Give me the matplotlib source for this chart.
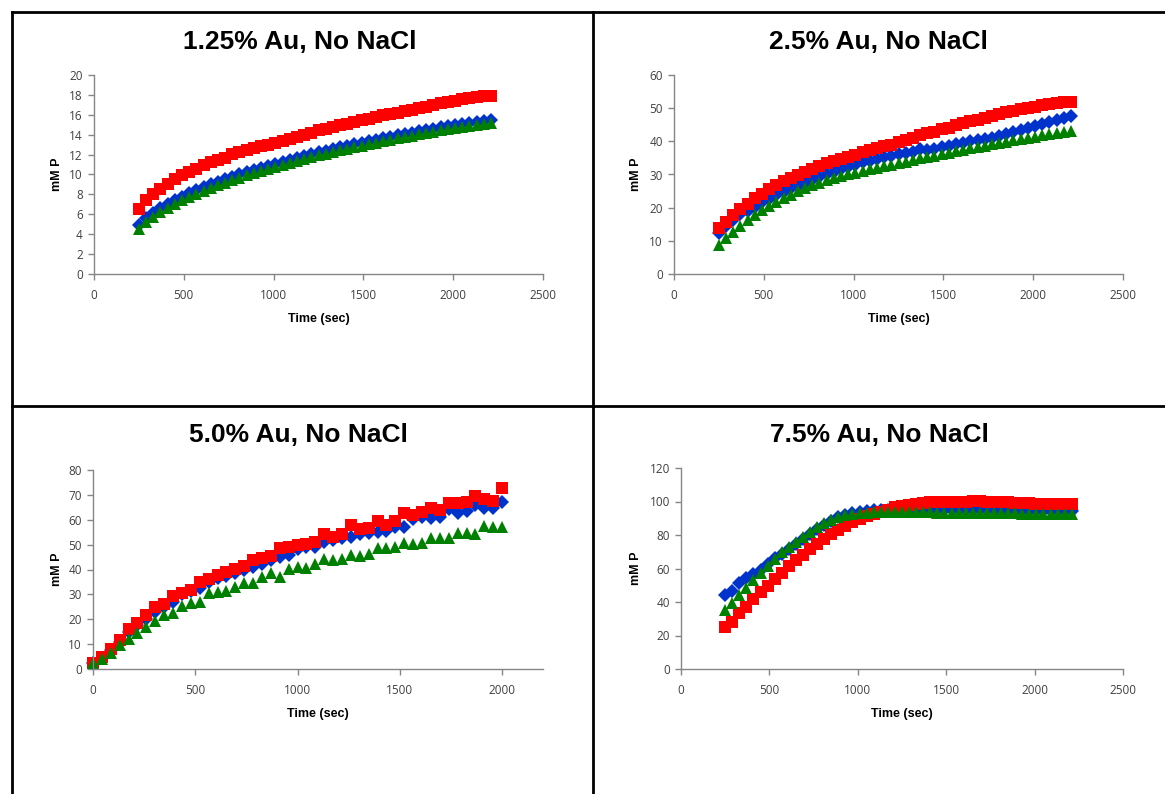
import numpy as np
import matplotlib.pyplot as plt
from matplotlib.lines import Line2D

# sampling times (sec)
t_main = np.arange(250, 2211, 40)
t_5pct = np.linspace(0, 2000, 47)

# 1.25% Au
au125_blue = [4.9, 5.6, 6.1, 6.6, 7.0, 7.4, 7.75, 8.1, 8.4, 8.7,
              9.0, 9.25, 9.5, 9.75, 10.0, 10.25, 10.5, 10.7, 10.9, 11.1,
              11.3, 11.5, 11.7, 11.9, 12.05, 12.25, 12.4, 12.6, 12.75, 12.9,
              13.05, 13.2, 13.35, 13.5, 13.65, 13.8, 13.95, 14.1, 14.2, 14.35,
              14.5, 14.6, 14.75, 14.85, 15.0, 15.1, 15.2, 15.3, 15.4, 15.5]
au125_red = [6.5, 7.4, 8.0, 8.5, 9.0, 9.5, 9.9, 10.3, 10.6, 11.0,
             11.3, 11.5, 11.7, 12.05, 12.25, 12.5, 12.7, 12.9, 13.0, 13.2,
             13.4, 13.6, 13.8, 14.0, 14.2, 14.45, 14.6, 14.75, 14.95, 15.1,
             15.25, 15.45, 15.6, 15.75, 15.95, 16.05, 16.2, 16.35, 16.5, 16.65,
             16.8, 17.0, 17.15, 17.25, 17.4, 17.55, 17.7, 17.8, 17.85, 17.9]
au125_green = [4.5, 5.2, 5.75, 6.25, 6.65, 7.05, 7.4, 7.75, 8.05, 8.35,
               8.65, 8.9, 9.15, 9.4, 9.65, 9.9, 10.15, 10.35, 10.6, 10.8,
               11.0, 11.2, 11.4, 11.6, 11.75, 11.95, 12.1, 12.3, 12.45, 12.6,
               12.75, 12.9, 13.05, 13.2, 13.35, 13.5, 13.65, 13.8, 13.9, 14.05,
               14.2, 14.3, 14.45, 14.55, 14.7, 14.8, 14.9, 15.0, 15.1, 15.2]

# 2.5% Au
au25_blue = [12.5, 14.6, 16.4, 18.0, 19.1, 20.3, 21.6, 22.6, 23.8, 24.8,
             25.8, 26.6, 27.5, 28.3, 29.1, 30.0, 30.8, 31.6, 32.3, 33.0,
             33.7, 34.2, 34.7, 35.2, 35.7, 36.1, 36.5, 36.9, 37.6, 37.3,
             37.8, 38.3, 38.7, 39.1, 39.6, 40.0, 40.4, 40.8, 41.1, 41.6,
             42.2, 42.8, 43.4, 44.0, 44.6, 45.2, 45.8, 46.3, 46.9, 47.6]
au25_red = [14.0, 15.7, 17.8, 19.6, 21.1, 22.8, 24.1, 25.5, 26.9, 27.9,
            28.9, 29.9, 30.9, 31.8, 32.6, 33.4, 34.0, 34.7, 35.2, 36.0,
            36.8, 37.4, 38.0, 38.5, 39.0, 39.7, 40.4, 41.1, 41.8, 42.4,
            42.9, 43.6, 44.1, 44.8, 45.4, 46.0, 46.5, 47.0, 47.6, 48.2,
            48.7, 49.2, 49.6, 50.0, 50.5, 50.9, 51.4, 51.6, 51.8, 52.0]
au25_green = [8.7, 10.8, 12.8, 14.6, 16.3, 17.8, 19.2, 20.5, 21.7, 22.8,
              23.8, 24.9, 25.8, 26.7, 27.5, 28.2, 28.9, 29.5, 30.1, 30.6,
              31.1, 31.6, 32.1, 32.6, 33.0, 33.5, 33.9, 34.4, 34.9, 35.3,
              35.7, 36.1, 36.6, 37.0, 37.5, 37.9, 38.3, 38.7, 39.1, 39.5,
              39.9, 40.3, 40.7, 41.0, 41.4, 41.8, 42.1, 42.4, 42.7, 43.0]

# 5.0% Au
au50_blue = [2.3, 4.6, 7.6, 11.0, 14.8, 17.5, 20.0, 23.0, 25.1, 27.1,
             30.0, 31.5, 32.4, 35.0, 36.4, 37.4, 38.5, 39.8, 41.1, 42.2,
             43.8, 45.2, 45.8, 48.1, 48.9, 48.9, 51.2, 52.0, 52.5, 53.2,
             54.4, 54.8, 55.2, 55.6, 57.2, 57.2, 60.2, 61.2, 60.6, 61.2,
             64.2, 62.6, 63.6, 66.0, 64.6, 64.9, 67.1]
au50_red = [2.5, 5.0, 7.9, 11.7, 16.1, 18.6, 21.7, 25.1, 26.1, 29.4,
            30.7, 31.8, 35.1, 36.2, 37.8, 39.1, 40.1, 41.4, 43.8, 44.5,
            45.4, 48.5, 49.2, 49.9, 50.3, 51.2, 54.3, 53.2, 54.3, 57.9,
            56.1, 56.5, 59.5, 57.9, 59.6, 62.8, 61.9, 63.2, 64.6, 63.9,
            66.6, 66.9, 67.3, 69.5, 68.2, 67.5, 72.9]
au50_green = [2.3, 3.9, 6.3, 9.7, 11.9, 14.6, 17.0, 19.3, 21.7, 22.7,
              25.3, 26.7, 27.1, 30.4, 31.1, 31.5, 33.1, 34.7, 34.7, 36.9,
              38.5, 37.1, 40.1, 41.2, 40.5, 42.2, 44.1, 43.8, 44.2, 45.8,
              45.4, 46.2, 48.8, 48.8, 48.9, 50.5, 50.1, 50.5, 52.8, 52.5,
              52.5, 54.8, 54.8, 54.3, 57.5, 57.0, 57.0]

# 7.5% Au
au75_blue = [43.9, 46.8, 51.2, 54.2, 56.8, 59.2, 62.8, 66.0, 68.8, 71.8,
             74.7, 77.5, 80.7, 83.5, 86.1, 88.5, 90.5, 92.1, 93.3, 93.9,
             94.3, 94.7, 95.0, 95.2, 95.3, 95.3, 95.3, 95.2, 95.2, 95.1,
             95.1, 95.0, 95.0, 94.9, 94.9, 94.8, 94.8, 94.7, 94.7, 94.6,
             94.6, 94.5, 94.5, 94.4, 94.4, 94.3, 94.3, 94.2, 94.2, 94.1]
au75_red = [24.9, 28.3, 33.3, 37.3, 41.7, 45.8, 49.6, 53.6, 57.2, 61.2,
            64.8, 68.2, 71.6, 74.7, 77.7, 80.7, 83.1, 85.5, 87.7, 89.5,
            91.1, 92.5, 93.7, 95.1, 96.5, 97.5, 98.1, 98.5, 99.1, 99.5,
            99.7, 99.7, 99.9, 99.9, 99.9, 100.1, 100.1, 99.7, 99.7, 99.5,
            99.5, 99.3, 99.3, 99.0, 98.8, 98.8, 98.6, 98.6, 98.8, 98.3]
au75_green = [35.3, 39.7, 44.2, 48.2, 53.2, 57.6, 61.6, 65.6, 69.6, 72.8,
              75.7, 78.7, 81.7, 84.5, 87.1, 89.1, 90.5, 92.1, 92.7, 93.1,
              93.4, 93.6, 93.7, 93.8, 93.8, 93.8, 93.7, 93.6, 93.5, 93.5,
              93.4, 93.4, 93.3, 93.3, 93.2, 93.2, 93.1, 93.1, 93.0, 93.0,
              92.9, 92.9, 92.8, 92.8, 92.7, 92.7, 92.6, 92.6, 92.5, 92.5]

W, H = 1165, 794
fig = plt.figure(figsize=(W / 100, H / 100), dpi=100)

def px_rect(left, top, right, bottom):
    return [left / W, 1 - bottom / H, (right - left) / W, (bottom - top) / H]

panels = [
    ("1.25% Au, No NaCl", px_rect(94, 75, 543, 274), (300, 42), 57,
     t_main, au125_blue, au125_red, au125_green, (0, 2500), (0, 20), 2),
    ("2.5% Au, No NaCl", px_rect(674, 75, 1123, 274), (878, 42), 636,
     t_main, au25_blue, au25_red, au25_green, (0, 2500), (0, 60), 10),
    ("5.0% Au, No NaCl", px_rect(93, 470, 543, 669), (298, 435), 57,
     t_5pct, au50_blue, au50_red, au50_green, (0, 2200), (0, 80), 10),
    ("7.5% Au, No NaCl", px_rect(681, 468, 1123, 669), (879, 435), 636,
     t_main, au75_blue, au75_red, au75_green, (0, 2500), (0, 120), 20),
]

axis_grey = '#868686'
for title, rect, tpos, ylab_x, t, blue, red, green, xlim, ylim, ystep in panels:
    ax = fig.add_axes(rect)
    ax.plot(t, blue, 'D', color='#0033CC', ms=7.0, mew=0, clip_on=False)
    ax.plot(t, red, 's', color='#FF0000', ms=8.4, mew=0, clip_on=False)
    ax.plot(t, green, '^', color='#008000', ms=8.4, mew=0, clip_on=False)
    ax.set_xlim(*xlim)
    ax.set_ylim(*ylim)
    xt = np.arange(0, 2501, 500)
    ax.set_xticks(xt[xt <= xlim[1]])
    ax.set_yticks(np.arange(ylim[0], ylim[1] + 0.1, ystep))
    for side in ('top', 'right'):
        ax.spines[side].set_visible(False)
    for side in ('left', 'bottom'):
        ax.spines[side].set_color(axis_grey)
        ax.spines[side].set_linewidth(1.0)
    ax.tick_params(direction='out', length=4, width=1.0, color=axis_grey,
                   labelsize=8.5, labelcolor='#404040')
    ax.tick_params(axis='x', pad=7)
    ax.tick_params(axis='y', pad=4)
    for lab in ax.get_xticklabels() + ax.get_yticklabels():
        lab.set_family('Open Sans')
    ax.set_xlabel('Time (sec)', fontsize=9, fontweight='bold',
                  family='Liberation Sans', labelpad=8)
    fig.text(tpos[0] / W, 1 - tpos[1] / H, title, ha='center', va='center',
             fontsize=19, fontweight='bold', family='Liberation Sans')
    fig.text(ylab_x / W, rect[1] + rect[3] / 2, 'mM P', rotation=90,
             ha='center', va='center', fontsize=9, fontweight='bold',
             family='Liberation Sans')

# table-style frame around the four charts
lw = 2.0
y_top = 1 - 12 / H
x_left = 12 / W
fig.add_artist(Line2D([x_left, 1], [y_top, y_top], color='black', lw=lw))
fig.add_artist(Line2D([x_left, x_left], [0, y_top], color='black', lw=lw))
fig.add_artist(Line2D([593 / W, 593 / W], [0, y_top], color='black', lw=lw))
fig.add_artist(Line2D([x_left, 1], [1 - 406 / H, 1 - 406 / H], color='black', lw=lw))

fig.savefig('out.png', dpi=100)
